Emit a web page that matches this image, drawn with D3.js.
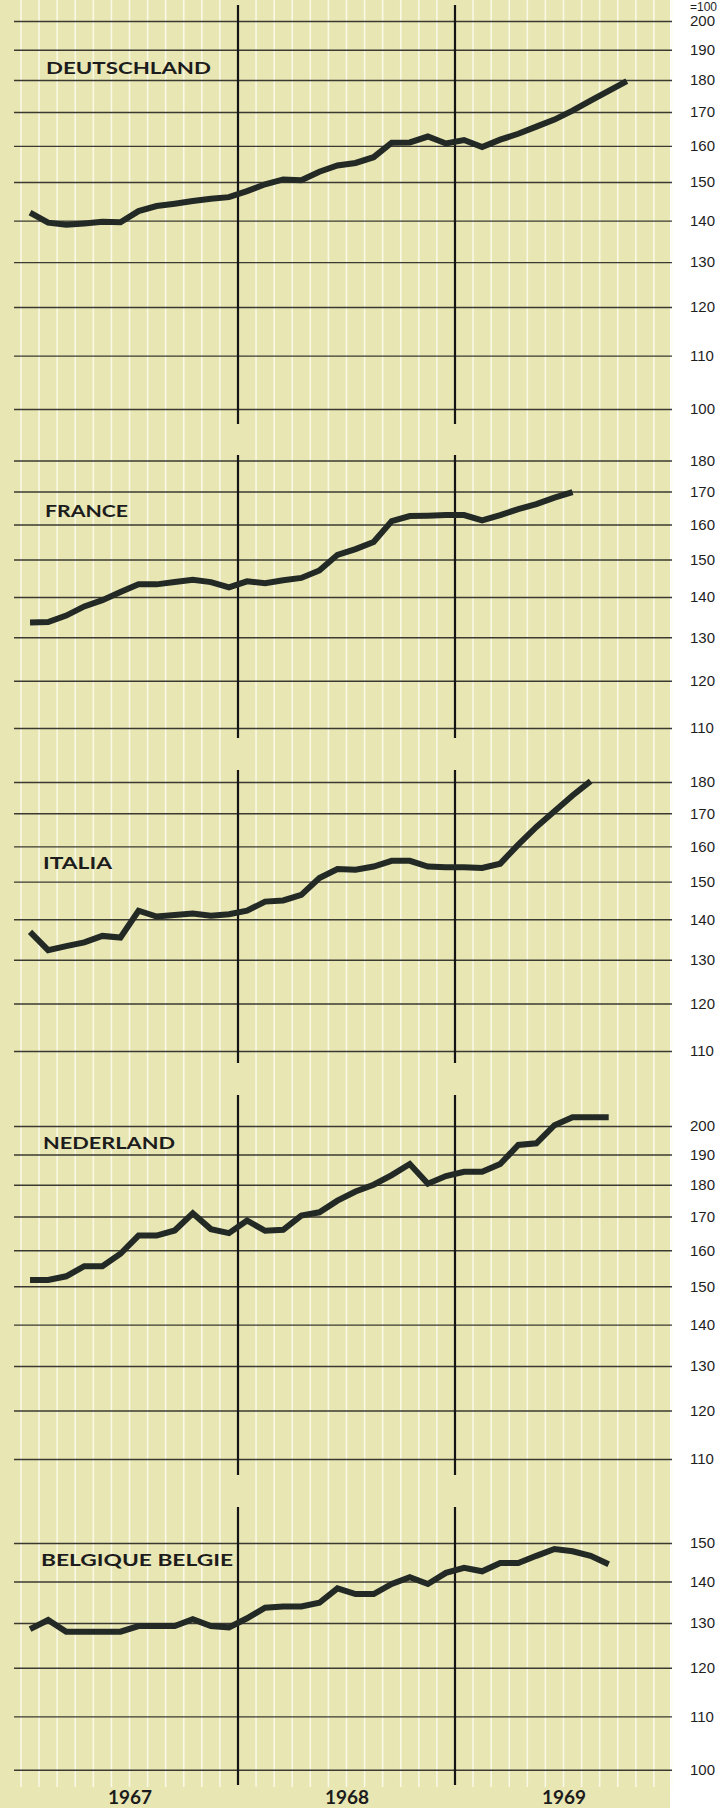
<!DOCTYPE html>
<html>
<head>
<meta charset="utf-8">
<script src="https://cdn.jsdelivr.net/npm/d3@7"></script>
<style>
  html, body { margin: 0; padding: 0; background: #fff; }
  svg { display: block; }
</style>
</head>
<body>
<svg id="chart" width="717" height="1808"></svg>
<script>
// index values, one per month starting January 1967
var deutschland = [142, 139.5, 139, 139.3, 139.7, 139.6, 142.4, 143.7, 144.3, 145, 145.6, 146,
  147.6, 149.4, 150.7, 150.5, 152.8, 154.5, 155.2, 156.8, 160.9, 161, 162.7, 160.7,
  161.7, 159.7, 161.8, 163.5, 165.6, 167.7, 170.4, 173.5, 176.5, 179.6];
var france = [133.6, 133.7, 135.3, 137.6, 139.2, 141.3, 143.3, 143.3, 143.9, 144.5, 143.9, 142.5,
  144.1, 143.6, 144.4, 145, 147, 151.3, 152.9, 154.9, 161, 162.5, 162.6, 162.8,
  162.8, 161.2, 162.8, 164.6, 166.1, 168.1, 169.8];
var italia = [136.8, 132.3, 133.3, 134.2, 135.8, 135.4, 142.2, 140.7, 141.1, 141.5, 140.9, 141.3,
  142.2, 144.6, 144.9, 146.4, 151, 153.5, 153.3, 154.2, 155.8, 155.8, 154.2, 154,
  154, 153.8, 155, 160.5, 165.8, 170.6, 175.6, 180.3];
var nederland = [151.7, 151.7, 152.7, 155.5, 155.5, 159, 164.3, 164.3, 165.8, 171, 166.2, 165,
  168.8, 165.7, 166, 170.3, 171.3, 174.9, 177.8, 180, 183.1, 186.8, 180.3, 182.8,
  184.2, 184.2, 186.8, 193.3, 193.9, 200.3, 203.2, 203.2, 203.2];
var belgique = [128.6, 130.7, 128, 128, 128, 128, 129.3, 129.3, 129.3, 130.9, 129.3, 129,
  131.1, 133.6, 133.9, 133.9, 134.8, 138.3, 136.9, 136.9, 139.4, 141.1, 139.4, 142.2,
  143.5, 142.6, 144.7, 144.7, 146.6, 148.4, 147.8, 146.6, 144.4];

var years = ['1967', '1968', '1969'];
var deTicks = [100, 110, 120, 130, 140, 150, 160, 170, 180, 190, 200];
var frTicks = [110, 120, 130, 140, 150, 160, 170, 180];
var itTicks = [110, 120, 130, 140, 150, 160, 170, 180];
var nlTicks = [110, 120, 130, 140, 150, 160, 170, 180, 190, 200];
var beTicks = [100, 110, 120, 130, 140, 150];

// layout of the five panels (pixel anchors for lowest and highest grid line)
var panels = [
  {name: 'DEUTSCHLAND', data: deutschland, ticks: deTicks, yLo: 409, yHi: 21, top: 5, bottom: 424, lx: 46, ly: 74, lw: 165},
  {name: 'FRANCE', data: france, ticks: frTicks, yLo: 728, yHi: 460.5, top: 455, bottom: 738, lx: 45, ly: 517, lw: 83},
  {name: 'ITALIA', data: italia, ticks: itTicks, yLo: 1051, yHi: 782, top: 770, bottom: 1063, lx: 43, ly: 869, lw: 69},
  {name: 'NEDERLAND', data: nederland, ticks: nlTicks, yLo: 1459, yHi: 1126, top: 1095, bottom: 1475, lx: 43, ly: 1149, lw: 132},
  {name: 'BELGIQUE BELGIE', data: belgique, ticks: beTicks, yLo: 1769.7, yHi: 1543, top: 1507, bottom: 1785, lx: 41, ly: 1566, lw: 192}
];

var svg = d3.select('#chart');
var gridLeft = 14, gridRight = 672;

// months 0..36 across the three years
var x = d3.scaleLinear().domain([0, 36]).range([21, 672]);

svg.append('rect')
  .attr('x', 0).attr('y', 0)
  .attr('width', 670).attr('height', 1808)
  .attr('fill', '#e8e6b3');

// white month lines
svg.append('g').selectAll('line')
  .data(d3.range(0, 37).filter(function (m) { return m % 12 != 0 || m == 0 || m == 36; }))
  .enter().append('line')
  .attr('x1', function (m) { return x(m); })
  .attr('x2', function (m) { return x(m); })
  .attr('y1', 0).attr('y2', 1787)
  .attr('stroke', '#fbfbee')
  .attr('stroke-opacity', 0.85)
  .attr('stroke-width', 1.6);

var line = d3.line()
  .x(function (d, i) { return x(i + 0.5); })
  .y(function (d) { return d.y; })
  .curve(d3.curveLinear);

panels.forEach(function (p) {
  var lo = p.ticks[0], hi = p.ticks[p.ticks.length - 1];
  var y = d3.scaleLog().domain([lo, hi]).range([p.yLo, p.yHi]);

  var axis = d3.axisRight(y)
    .tickValues(p.ticks)
    .tickFormat(d3.format('d'))
    .tickSize(-(gridRight - gridLeft))
    .tickPadding(18);

  var g = svg.append('g')
    .attr('transform', 'translate(' + gridRight + ',0)')
    .call(axis);
  g.select('.domain').remove();
  g.selectAll('.tick line')
    .attr('stroke', '#3b3a30')
    .attr('stroke-width', 1.4);
  g.selectAll('.tick text')
    .attr('fill', '#1e1e1e')
    .style('font-family', '"Liberation Sans", Arial, sans-serif')
    .style('font-size', '15px');

  // year separators
  svg.append('g').selectAll('line')
    .data([12, 24])
    .enter().append('line')
    .attr('x1', function (m) { return x(m); })
    .attr('x2', function (m) { return x(m); })
    .attr('y1', p.top).attr('y2', p.bottom)
    .attr('stroke', '#141414')
    .attr('stroke-width', 2.2);

  var pts = p.data.map(function (v) { return {y: y(v)}; });
  svg.append('path')
    .datum(pts)
    .attr('d', line)
    .attr('fill', 'none')
    .attr('stroke', '#232a25')
    .attr('stroke-width', 6)
    .attr('stroke-linejoin', 'miter')
    .attr('stroke-miterlimit', 3);

  svg.append('text')
    .attr('x', p.lx).attr('y', p.ly)
    .attr('textLength', p.lw)
    .attr('lengthAdjust', 'spacingAndGlyphs')
    .attr('fill', '#1c1c1c')
    .style('font-family', 'Lato, "Open Sans", sans-serif')
    .style('font-weight', 'bold')
    .style('font-size', '17px')
    .text(p.name);
});

svg.append('text')
  .attr('x', 690).attr('y', 11)
  .attr('fill', '#1e1e1e')
  .style('font-family', '"Liberation Sans", Arial, sans-serif')
  .style('font-size', '12px')
  .text('=100');

// year labels along the bottom
var yearAxis = d3.axisBottom(x)
  .tickValues([6, 18, 30])
  .tickFormat(function (d, i) { return years[i]; })
  .tickSize(0)
  .tickPadding(0);
var ya = svg.append('g')
  .attr('transform', 'translate(0,1790)')
  .call(yearAxis);
ya.select('.domain').remove();
ya.selectAll('text')
  .attr('dy', '0.75em')
  .attr('fill', '#1c1c1c')
  .style('font-family', 'Lato, "Open Sans", sans-serif')
  .style('font-weight', 'bold')
  .style('font-size', '19px');
</script>
</body>
</html>
